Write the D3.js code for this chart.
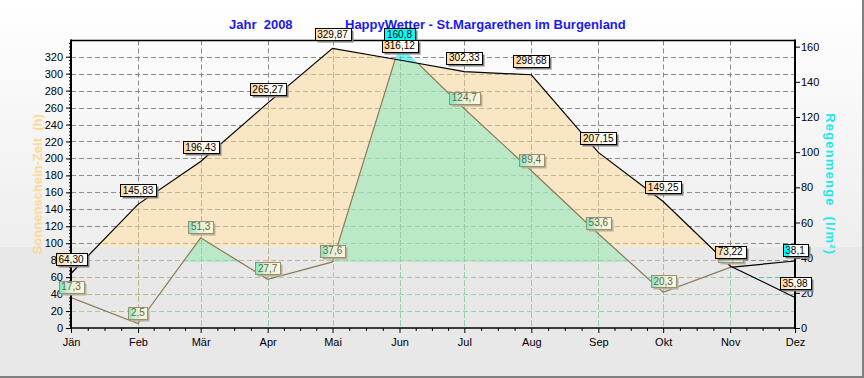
<!DOCTYPE html>
<html><head><meta charset="utf-8">
<script src="https://cdn.jsdelivr.net/npm/d3@7"></script>
<style>
body{margin:0;background:#fff;}
svg{display:block;}
text{font-family:"Liberation Sans",Arial,sans-serif;}
</style>
</head><body>
<svg id="c" width="864" height="378"></svg>
<script>
// ---- data ----
const months = ["Jän","Feb","Mär","Apr","Mai","Jun","Jul","Aug","Sep","Okt","Nov","Dez"];
const sunshine = [64.30,145.83,196.43,265.27,329.87,316.12,302.33,298.68,207.15,149.25,73.22,35.98];
const rain = [17.3,2.5,51.3,27.7,37.6,160.8,124.7,89.4,53.6,20.3,34.5,38.1];
const leftTicks = [0,20,40,60,80,100,120,140,160,180,200,220,240,260,280,300,320];
const rightTicks = [0,20,40,60,80,100,120,140,160];
const titleLeft = "Jahr  2008";
const titleRight = "HappyWetter - St.Margarethen im Burgenland";
const leftTitle = "Sonnenschein-Zeit  (h)";
const rightTitle = "Regenmenge  (l/m²)";
const sunFloor = 96;     // left-axis value where sunshine fill stops
const rainFloor = 37.6;  // right-axis value where rain fill stops

// ---- setup ----
const W=864,H=378, L=71,R=795,T=40.5,B=328;
const dates = months.map((m,i)=>new Date(Date.UTC(2008,i,1)));
const svg=d3.select("#c");
const defs=svg.append("defs");
const x=d3.scaleUtc().domain([dates[0],dates[11]]).range([L,R]);
const yL=d3.scaleLinear().domain([0,339.1]).range([B,T]);
const yR=d3.scaleLinear().domain([0,163.5]).range([B,T]);
const split = yL(sunFloor);

// background
const bg=defs.append("linearGradient").attr("id","bgG").attr("x1",0).attr("x2",0).attr("y1",0).attr("y2",1);
bg.append("stop").attr("offset",0).attr("stop-color","#ffffff");
bg.append("stop").attr("offset",1).attr("stop-color","#eeeeee");
svg.append("rect").attr("x",0).attr("y",0).attr("width",W).attr("height",split).attr("fill","url(#bgG)");
svg.append("rect").attr("x",0).attr("y",split).attr("width",W).attr("height",H-split).attr("fill","#e8e8e8");

// shapes
const sunArea=d3.area().x((d,i)=>x(dates[i])).y0(B).y1(d=>yL(d));
const rainArea=d3.area().x((d,i)=>x(dates[i])).y0(B).y1(d=>yR(d));
const aboveSun=d3.area().x((d,i)=>x(dates[i])).y0(T).y1(d=>yL(d));
function clip(id, fn){ const c=defs.append("clipPath").attr("id",id); fn(c); }
clip("cS",c=>c.append("path").attr("d",sunArea(sunshine)));
clip("cR",c=>c.append("path").attr("d",rainArea(rain)));
clip("cA",c=>c.append("path").attr("d",aboveSun(sunshine)));
clip("cUS",c=>c.append("rect").attr("x",L).attr("y",T).attr("width",R-L).attr("height",split-T));
clip("cUR",c=>c.append("rect").attr("x",L).attr("y",T).attr("width",R-L).attr("height",yR(rainFloor)-T));
clip("cLate",c=>c.append("rect").attr("x",x(dates[9])).attr("y",T).attr("width",R-x(dates[9])).attr("height",B-T));

// fills
svg.append("g").attr("clip-path","url(#cUS)").append("path").attr("d",sunArea(sunshine)).attr("fill","#f9e6c4");
svg.append("g").attr("clip-path","url(#cUR)").append("g").attr("clip-path","url(#cS)")
  .append("path").attr("d",rainArea(rain)).attr("fill","#bbe9c7");
svg.append("g").attr("clip-path","url(#cUR)").append("g").attr("clip-path","url(#cA)")
  .append("path").attr("d",rainArea(rain)).attr("fill","#7cf0f0");

// grid
function grid(g,color){
  g.selectAll("line.h").data(leftTicks.filter(t=>t>0)).join("line")
    .attr("x1",L).attr("x2",R).attr("y1",d=>Math.round(yL(d))+0.5).attr("y2",d=>Math.round(yL(d))+0.5)
    .attr("stroke",color).attr("stroke-dasharray","5,3");
  g.selectAll("line.v").data(dates.slice(1,11)).join("line").attr("class","v")
    .attr("x1",d=>Math.round(x(d))+0.5).attr("x2",d=>Math.round(x(d))+0.5).attr("y1",T).attr("y2",B)
    .attr("stroke",color).attr("stroke-dasharray","5,3");
}
function gridAll(g,color){
  const gh=g.append("g"), gv=g.append("g");
  gh.selectAll("line").data(leftTicks.filter(t=>t>0)).join("line")
    .attr("x1",L).attr("x2",R).attr("y1",d=>Math.round(yL(d))+0.5).attr("y2",d=>Math.round(yL(d))+0.5)
    .attr("stroke",color).attr("stroke-dasharray","5,3");
  gv.selectAll("line").data(dates.slice(1,11)).join("line")
    .attr("x1",d=>Math.round(x(d))+0.5).attr("x2",d=>Math.round(x(d))+0.5).attr("y1",T).attr("y2",B)
    .attr("stroke",color).attr("stroke-dasharray","5,3");
}
gridAll(svg.append("g"),"#8a8a8a");
gridAll(svg.append("g").attr("clip-path","url(#cS)"),"#c8b48c");
gridAll(svg.append("g").attr("clip-path","url(#cS)").append("g").attr("clip-path","url(#cR)"),"#98d0a8");
gridAll(svg.append("g").attr("clip-path","url(#cA)").append("g").attr("clip-path","url(#cR)"),"#40cccc");

// lines
const sunLine=d3.line().x((d,i)=>x(dates[i])).y(d=>yL(d));
const rainLine=d3.line().x((d,i)=>x(dates[i])).y(d=>yR(d));
svg.append("g").attr("clip-path","url(#cS)").append("path").attr("d",rainLine(rain))
  .attr("fill","none").attr("stroke","#8c7a58").attr("stroke-width",1.2);
svg.append("g").attr("clip-path","url(#cA)").append("g").attr("clip-path","url(#cLate)")
  .append("path").attr("d",rainLine(rain)).attr("fill","none").attr("stroke","#000").attr("stroke-width",1.2);
svg.append("path").attr("d",sunLine(sunshine)).attr("fill","none").attr("stroke","#000").attr("stroke-width",1.2);

// axes
function styleAxis(g){
  g.attr("font-family","Liberation Sans, Arial, sans-serif").attr("font-size",11);
  g.select(".domain").remove();
  g.selectAll("line").attr("stroke","#000");
  g.selectAll("text").attr("fill","#000");
}
const minorL=d3.range(0,340,4);
svg.append("g").attr("transform",`translate(${L},0)`)
  .call(d3.axisLeft(yL).tickValues(minorL).tickSize(2).tickFormat("")).call(styleAxis);
svg.append("g").attr("transform",`translate(${L},0)`)
  .call(d3.axisLeft(yL).tickValues(leftTicks).tickSize(5).tickPadding(3)).call(styleAxis);
svg.append("g").attr("transform",`translate(${R},0)`)
  .call(d3.axisRight(yR).tickValues(rightTicks).tickSize(5).tickPadding(1)).call(styleAxis);
const minorX=[];
for(let i=0;i<11;i++){ const a=+dates[i], b=+dates[i+1]; for(let k=1;k<4;k++) minorX.push(new Date(a+(b-a)*k/4)); }
svg.append("g").attr("transform",`translate(0,${B})`)
  .call(d3.axisBottom(x).tickValues(minorX).tickSize(3).tickFormat("")).call(styleAxis);
svg.append("g").attr("transform",`translate(0,${B})`)
  .call(d3.axisBottom(x).tickValues(dates).tickSize(5).tickPadding(5).tickFormat((d,i)=>months[i])).call(styleAxis);

// frame lines
svg.append("line").attr("x1",L).attr("x2",L).attr("y1",T-1).attr("y2",B+1).attr("stroke","#000").attr("stroke-width",2);
svg.append("line").attr("x1",R).attr("x2",R).attr("y1",T-1).attr("y2",B+1).attr("stroke","#000").attr("stroke-width",2);
svg.append("line").attr("x1",L).attr("x2",R).attr("y1",T).attr("y2",T).attr("stroke","#000").attr("stroke-width",1.5);
svg.append("line").attr("x1",L).attr("x2",R).attr("y1",B).attr("y2",B).attr("stroke","#000").attr("stroke-width",1.5);

// outer bevel
svg.append("line").attr("x1",0).attr("x2",W).attr("y1",H-1).attr("y2",H-1).attr("stroke","#808080").attr("stroke-width",2);
svg.append("line").attr("x1",W-1).attr("x2",W-1).attr("y1",0).attr("y2",H).attr("stroke","#808080").attr("stroke-width",2);

// titles
svg.append("text").attr("x",229).attr("y",29).attr("font-size",13).attr("font-weight","bold")
  .attr("fill","#1a1af0").style("white-space","pre").text(titleLeft);
svg.append("text").attr("x",345).attr("y",29).attr("font-size",13).attr("font-weight","bold")
  .attr("fill","#1a1af0").text(titleRight);
svg.append("text").attr("transform",`translate(41.5,${(T+B)/2}) rotate(-90)`).attr("text-anchor","middle")
  .attr("font-size",13).attr("font-weight","bold").attr("fill","#ffd796").style("white-space","pre").text(leftTitle);
svg.append("text").attr("transform",`translate(826,${(T+B)/2}) rotate(90)`).attr("text-anchor","middle")
  .attr("font-size",13).attr("font-weight","bold").attr("fill","#1ee6ee").attr("letter-spacing",1.2)
  .style("white-space","pre").text(rightTitle);

// label gradients
function grad(id,stops){ const g=defs.append("linearGradient").attr("id",id);
  stops.forEach(s=>g.append("stop").attr("offset",s[0]).attr("stop-color",s[1])); }
grad("gSun",[[0,"#fdd69a"],[0.5,"#fffaf0"],[1,"#ffffff"]]);
grad("gRain",[[0,"#7ee8c2"],[0.45,"#e4f2d6"],[1,"#fbf6dc"]]);
grad("gCyanFull",[[0,"#00ffff"],[1,"#00ffff"]]);
grad("gCyan",[[0,"#00ffff"],[0.2,"#00ffff"],[0.22,"#ffffff"],[1,"#ffffff"]]);

function label(cx, bottom, txt, style){
  const g=svg.append("g");
  const t=g.append("text").attr("font-size",10).attr("text-anchor","middle").attr("x",cx).attr("y",bottom-2.5).text(txt);
  const w=Math.ceil(t.node().getComputedTextLength())+5, h=12;
  const x0=Math.round(cx-w/2)+0.5, y0=Math.round(bottom-h)+0.5;
  g.insert("rect","text").attr("x",x0+2).attr("y",y0+2).attr("width",w).attr("height",h).attr("fill",style.shadow);
  g.insert("rect","text").attr("x",x0).attr("y",y0).attr("width",w).attr("height",h)
    .attr("fill",style.fill).attr("stroke",style.stroke);
  t.attr("fill",style.color);
}
const sunStyle={fill:"url(#gSun)",stroke:"#000",shadow:"#808080",color:"#000"};
const rainStyle={fill:"url(#gRain)",stroke:"#9c8e6e",shadow:"#b8b09a",color:"#6a6450"};
const cyanFull={fill:"url(#gCyanFull)",stroke:"#000",shadow:"#808080",color:"#000"};
const cyanStrip={fill:"url(#gCyan)",stroke:"#000",shadow:"#808080",color:"#000"};
const fmt=(v,d)=>v.toFixed(d).replace(".",",");
const rainMax=d3.max(rain);
rain.forEach((v,i)=>{
  const above = yR(v) < yL(sunshine[i]);
  const st = !above ? rainStyle : (v===rainMax ? cyanFull : cyanStrip);
  label(x(dates[i]), yR(v)-5, fmt(v,1), st);
});
sunshine.forEach((v,i)=>label(x(dates[i]), yL(v)-8, fmt(v,2), sunStyle));
</script>
</body></html>
